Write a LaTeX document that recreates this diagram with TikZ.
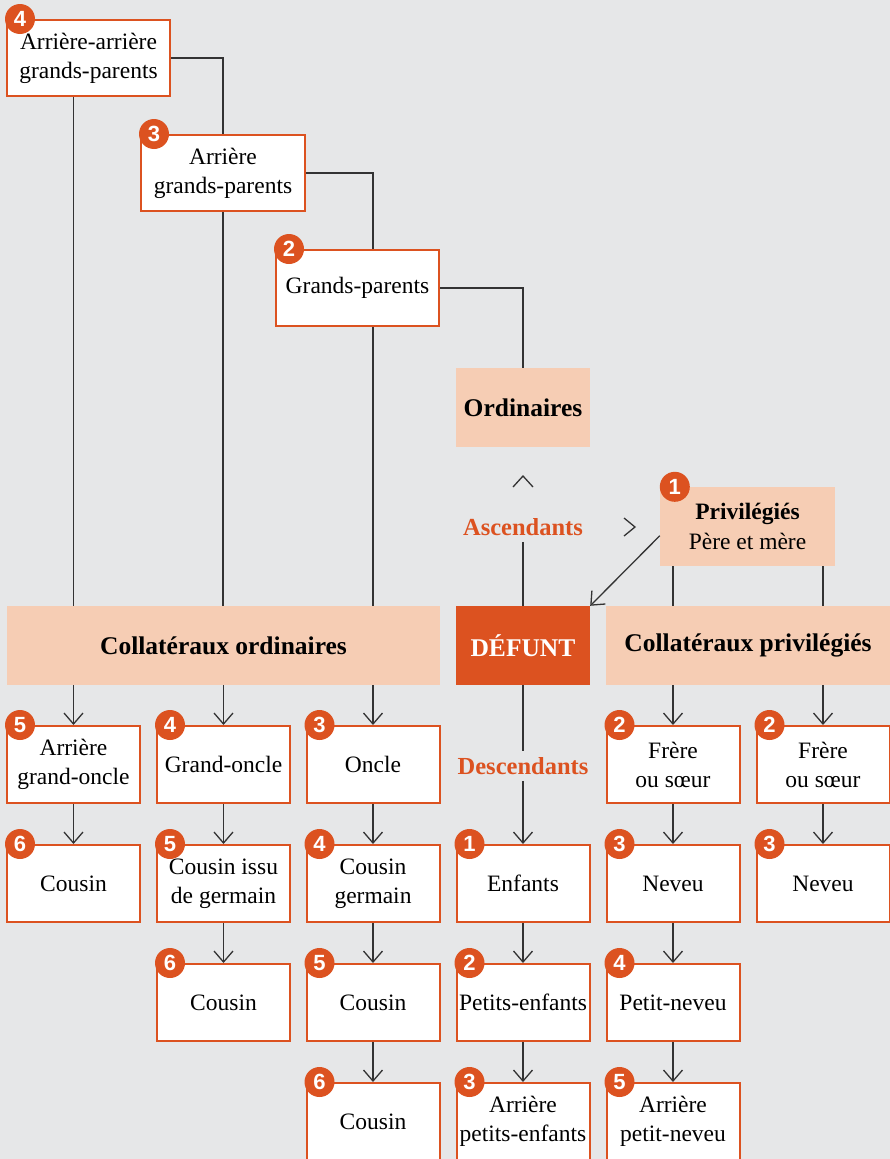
\documentclass[tikz,border=0pt]{standalone}
\usepackage{fontspec}
\setmainfont{Liberation Serif}
\setsansfont{Liberation Sans}
\usetikzlibrary{arrows.meta}

\definecolor{rouille}{RGB}{220,82,32}
\definecolor{peche}{RGB}{246,205,180}
\definecolor{fond}{RGB}{230,231,232}
\definecolor{trait}{RGB}{51,51,51}

\begin{document}
\begin{tikzpicture}[x=1pt, y=-1pt, >={Straight Barb[length=11pt,width=19pt]},
    parent/.style={draw=rouille, fill=white, line width=2pt, align=center,
        minimum width=133pt, minimum height=77pt, inner sep=0pt,
        font=\fontsize{23.5}{29}\selectfont},
    bande/.style={fill=peche, align=center, inner sep=0pt, minimum height=79pt,
        font=\fontsize{25.5}{30}\selectfont\bfseries},
    pastille/.style={circle, fill=rouille, text=white, inner sep=0pt, minimum size=30pt,
        font=\sffamily\bfseries\fontsize{22}{22}\selectfont},
    sens/.style={text=rouille, inner sep=6pt, font=\fontsize{24.5}{29}\selectfont\bfseries},
    lien/.style={draw=trait, line width=1.3pt}]

    \fill[fond] (0,0) rectangle (890,1159);
    \useasboundingbox (0,0) rectangle (890,1159);

    % ascendants
    \node[parent, minimum width=163pt, minimum height=76pt] (b4) at (88.5,58) {Arrière-arrière\\grands-parents};
    \node[parent, minimum width=164pt, minimum height=76pt] (b3) at (223,173) {Arrière\\grands-parents};
    \node[parent, minimum width=163pt, minimum height=76pt] (b2) at (357.5,288) {Grands-parents};
    \node[bande, minimum width=134pt] (ordi) at (523,407.5) {Ordinaires};
    \node[bande, minimum width=175pt, font=\fontsize{23.5}{30}\selectfont] (priv) at (747.5,526.5)
        {{\bfseries Privilégiés}\\Père et mère};
    \node[sens] (asc) at (523,527) {Ascendants};

    % bandeau central
    \node[bande, minimum width=433pt] (colo) at (223.5,645.5) {Collatéraux ordinaires};
    \node[bande, minimum width=134pt, fill=rouille, text=white] (defunt) at (523,645.5) {DÉFUNT};
    \node[bande, minimum width=284pt] (colp) at (748,645.5) {Collatéraux privilégiés};
    \node[sens] (desc) at (523,766) {Descendants};

    % degres
    \foreach \nom/\x/\y/\rang/\txt in {
        aoncle/73.5/764.5/5/{Arrière\\grand-oncle},
        goncle/223.5/764.5/4/{Grand-oncle},
        oncle/373/764.5/3/{Oncle},
        frereA/673/764.5/2/{Frère\\ou sœur},
        frereB/823/764.5/2/{Frère\\ou sœur},
        cousinA/73.5/883.5/6/{Cousin},
        cissu/223.5/883.5/5/{Cousin issu\\de germain},
        cgerm/373/883.5/4/{Cousin\\germain},
        enfants/523/883.5/1/{Enfants},
        neveuA/673/883.5/3/{Neveu},
        neveuB/823/883.5/3/{Neveu},
        cousinB/223.5/1002.5/6/{Cousin},
        cousinC/373/1002.5/5/{Cousin},
        pEnf/523/1002.5/2/{Petits-enfants},
        pneveu/673/1002.5/4/{Petit-neveu},
        cousinD/373/1121.5/6/{Cousin},
        apEnf/523/1121.5/3/{Arrière\\petits-enfants},
        apNeveu/673/1121.5/5/{Arrière\\petit-neveu}} {
        \node[parent] (\nom) at (\x,\y) {\txt};
        \node[pastille] (p\nom) at ([xshift=14pt]\nom.north west) {\rang};
    }

    \node[pastille] (pb4) at ([xshift=14pt]b4.north west) {4};
    \node[pastille] (pb3) at ([xshift=14pt]b3.north west) {3};
    \node[pastille] (pb2) at ([xshift=14pt]b2.north west) {2};
    \node[pastille] (ppriv) at ([xshift=15pt]priv.north west) {1};

    % liens
    \draw[lien] (b4.east) -| (b3.north);
    \draw[lien] (b3.east) -| (b2.north -| oncle);
    \draw[lien] (b2.east) -| (ordi.north);
    \draw[lien] (b4.south -| aoncle) -- (colo.north -| aoncle);
    \draw[lien] (b3.south) -- (colo.north -| b3);
    \draw[lien] (b2.south -| oncle) -- (colo.north -| oncle);
    \draw[lien] (asc.south) -- (defunt.north);
    \draw[lien, ->] (priv.186) -- (defunt.north east);
    \draw[lien] (priv.south -| frereA) -- (colp.north -| frereA);
    \draw[lien] (priv.south -| frereB) -- (colp.north -| frereB);
    \draw[lien] (defunt.south) -- (desc.north);
    \draw[lien, ->] (desc.south) -- (enfants.north);

    \foreach \haut/\bas in {aoncle/cousinA, goncle/cissu, cissu/cousinB, oncle/cgerm,
        cgerm/cousinC, cousinC/cousinD, enfants/pEnf, pEnf/apEnf, frereA/neveuA,
        neveuA/pneveu, pneveu/apNeveu, frereB/neveuB}
        \draw[lien, ->] (\haut) -- (\bas);

    \foreach \bas in {aoncle, goncle, oncle}
        \draw[lien, ->] (colo.south -| \bas) -- (\bas);
    \foreach \bas in {frereA, frereB}
        \draw[lien, ->] (colp.south -| \bas) -- (\bas);

    % chevrons
    \draw[lien] (513,487) -- (523,476) -- (533,487);
    \draw[lien] (624,518) -- (635,527) -- (624,536);
\end{tikzpicture}
\end{document}
